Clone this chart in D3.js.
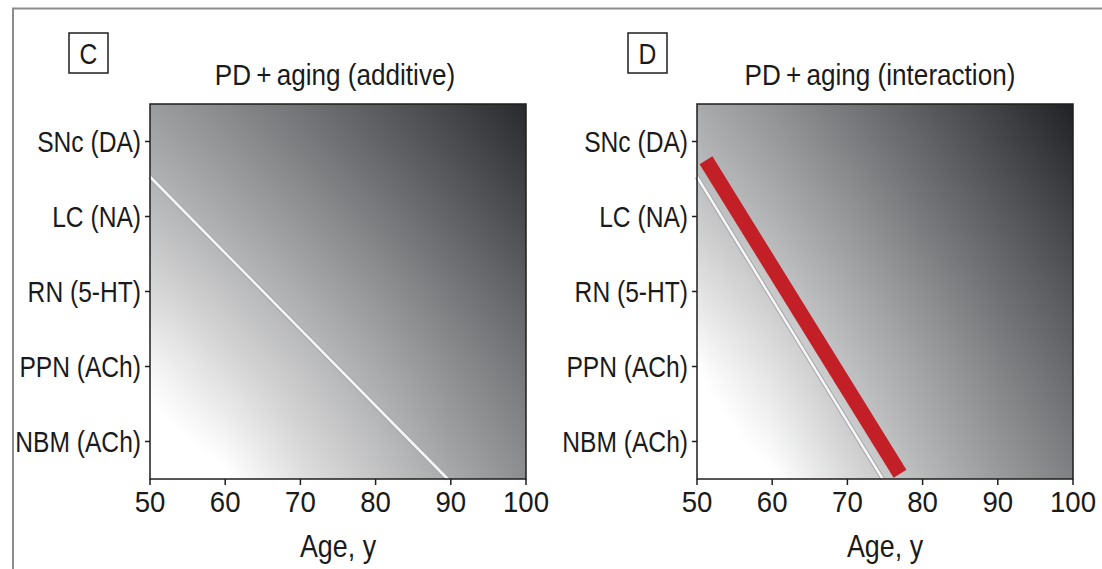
<!DOCTYPE html>
<html lang="en">
<head>
    <meta charset="utf-8">
    <title>PD + aging</title>
    <script src="https://d3js.org/d3.v7.min.js"></script>
    <style type="text/css">
        body{
            margin: 0;
            background: #fff;
        }
        text{
            font-family: "Liberation Sans", Arial, sans-serif;
            fill: #1a1a1a;
        }
    </style>
</head>
<body>
    <svg id="chart" width="1102" height="569"></svg>

    <script type="text/javascript">

        const regions = ["SNc (DA)", "LC (NA)", "RN (5-HT)", "PPN (ACh)", "NBM (ACh)"];
        const ageTicks = [50, 60, 70, 80, 90, 100];

        // shading grid: grey level per (row position, age)
        const gridAges = [50, 60, 70, 80, 90, 100];
        const gridRows = [-0.5, 0, 1, 2, 3, 4, 4.5];   // 0 = SNc ... 4 = NBM

        const shadeAdditive = [
            [155, 134, 112,  88,  64,  38],
            [165, 145, 122,  98,  74,  48],
            [190, 168, 146, 122,  96,  70],
            [216, 194, 170, 146, 119,  93],
            [246, 218, 194, 168, 140, 114],
            [265, 246, 214, 188, 158, 132],
            [272, 258, 224, 196, 168, 140]
        ];
        const shadeInteraction = [
            [168, 144, 116,  88,  60,  30],
            [178, 154, 126,  98,  69,  40],
            [202, 176, 148, 118,  90,  62],
            [228, 200, 170, 140, 110,  82],
            [254, 224, 190, 160, 129, 100],
            [270, 246, 208, 176, 146, 118],
            [278, 258, 218, 184, 154, 126]
        ];

        // [age, row position]
        const thresholdAdditive = [[50, 0.47], [89.6, 4.5]];
        const thresholdInteraction = [[50, 0.47], [74.7, 4.5]];
        const highlightInteraction = [[51.2, 0.25], [77.0, 4.43]];

        const svg = d3.select("#chart");

        // outer frame (top and left only)
        svg.append("path")
            .attr("d", "M13,569 V8.5 H1102")
            .attr("fill", "none")
            .attr("stroke", "#8c8c8c")
            .attr("stroke-width", 2);

        const grey = d3.scaleLinear()
            .domain([30, 255])
            .range(["#202226", "#ffffff"])
            .clamp(true);

        // condensed look: squeeze text horizontally around its anchor
        function narrow(sel, x, y, k) {
            sel.attr("transform", (d, i) => {
                const xx = typeof x === "function" ? x(d, i) : x;
                const yy = typeof y === "function" ? y(d, i) : y;
                return `translate(${xx},${yy}) scale(${k},1)`;
            });
        }

        function shadeAt(grid, age, row) {
            let i = d3.bisectRight(gridAges, age) - 1;
            i = Math.max(0, Math.min(gridAges.length - 2, i));
            let j = d3.bisectRight(gridRows, row) - 1;
            j = Math.max(0, Math.min(gridRows.length - 2, j));
            const tx = (age - gridAges[i]) / (gridAges[i + 1] - gridAges[i]);
            const ty = (row - gridRows[j]) / (gridRows[j + 1] - gridRows[j]);
            const top = grid[j][i] * (1 - tx) + grid[j][i + 1] * tx;
            const bot = grid[j + 1][i] * (1 - tx) + grid[j + 1][i + 1] * tx;
            return top * (1 - ty) + bot * ty;
        }

        function drawPanel(p) {
            const x = d3.scaleLinear().domain([50, 100]).range([p.left, p.right]);
            const yRow = d3.scaleLinear().domain([-0.5, 4.5]).range([p.top, p.bottom]);
            const yBand = d3.scalePoint().domain(regions).range([p.top, p.bottom]).padding(0.5);

            const w = Math.round(p.right - p.left);
            const h = Math.round(p.bottom - p.top);
            const canvas = document.createElement("canvas");
            canvas.width = w;
            canvas.height = h;
            const ctx = canvas.getContext("2d");
            const img = ctx.createImageData(w, h);
            for (let py = 0; py < h; py++) {
                const row = yRow.invert(p.top + py + 0.5);
                for (let px = 0; px < w; px++) {
                    const age = x.invert(p.left + px + 0.5);
                    const c = d3.rgb(grey(shadeAt(p.grid, age, row)));
                    const k = (py * w + px) * 4;
                    img.data[k] = c.r;
                    img.data[k + 1] = c.g;
                    img.data[k + 2] = c.b;
                    img.data[k + 3] = 255;
                }
            }
            ctx.putImageData(img, 0, 0);

            const g = svg.append("g");

            g.append("image")
                .attr("x", p.left)
                .attr("y", p.top)
                .attr("width", w)
                .attr("height", h)
                .attr("preserveAspectRatio", "none")
                .attr("href", canvas.toDataURL());

            const line = d3.line()
                .x(d => x(d[0]))
                .y(d => yRow(d[1]));

            if (p.threshold) {
                g.append("path")
                    .datum(p.threshold)
                    .attr("d", line)
                    .attr("stroke", "#a4a6a9")
                    .attr("stroke-width", 4.5)
                    .attr("fill", "none");
                g.append("path")
                    .datum(p.threshold)
                    .attr("d", line)
                    .attr("stroke", "#f6f6f6")
                    .attr("stroke-width", 2.5)
                    .attr("fill", "none");
            }

            if (p.highlight) {
                g.append("path")
                    .datum(p.highlight)
                    .attr("d", line)
                    .attr("stroke", "#c21f27")
                    .attr("stroke-width", 15)
                    .attr("fill", "none");
            }

            g.append("rect")
                .attr("x", p.left)
                .attr("y", p.top)
                .attr("width", w)
                .attr("height", h)
                .attr("fill", "none")
                .attr("stroke", "#1e1e1e")
                .attr("stroke-width", 1.5);

            // y ticks
            g.selectAll(".ytick")
                .data(regions)
                .enter()
                .append("line")
                .attr("x1", p.left - 5)
                .attr("x2", p.left)
                .attr("y1", d => yBand(d))
                .attr("y2", d => yBand(d))
                .attr("stroke", "#1e1e1e")
                .attr("stroke-width", 1.5);

            g.selectAll(".ylab")
                .data(regions)
                .enter()
                .append("text")
                .attr("dy", "0.36em")
                .attr("text-anchor", "end")
                .style("font-size", "30px")
                .call(narrow, p.left - 9, d => yBand(d), 0.82)
                .text(d => d);

            // x ticks
            g.selectAll(".xtick")
                .data(ageTicks)
                .enter()
                .append("line")
                .attr("x1", d => x(d))
                .attr("x2", d => x(d))
                .attr("y1", p.bottom)
                .attr("y2", p.bottom + 6)
                .attr("stroke", "#1e1e1e")
                .attr("stroke-width", 1.5);

            g.selectAll(".xlab")
                .data(ageTicks)
                .enter()
                .append("text")
                .attr("text-anchor", "middle")
                .style("font-size", "30px")
                .call(narrow, d => x(d), p.bottom + 33, 0.92)
                .text(d => d);

            g.append("text")
                .attr("text-anchor", "middle")
                .style("font-size", "32px")
                .call(narrow, (p.left + p.right) / 2, 557, 0.84)
                .text("Age, y");

            g.append("text")
                .attr("text-anchor", "middle")
                .style("font-size", "29px")
                .call(narrow, p.titleX, 85, 0.9)
                .text(p.title);

            g.append("rect")
                .attr("x", p.boxX)
                .attr("y", 33)
                .attr("width", 39)
                .attr("height", 40)
                .attr("fill", "#fff")
                .attr("stroke", "#1e1e1e")
                .attr("stroke-width", 1.5);

            g.append("text")
                .attr("text-anchor", "middle")
                .style("font-size", "29px")
                .call(narrow, p.boxX + 19.5, 64, 0.85)
                .text(p.letter);
        }

        drawPanel({
            left: 150, right: 526, top: 104, bottom: 479,
            grid: shadeAdditive,
            threshold: thresholdAdditive,
            title: "PD\u2009+\u2009aging (additive)",
            titleX: 335,
            letter: "C",
            boxX: 69
        });

        drawPanel({
            left: 697, right: 1073, top: 104, bottom: 479,
            grid: shadeInteraction,
            threshold: thresholdInteraction,
            highlight: highlightInteraction,
            title: "PD\u2009+\u2009aging (interaction)",
            titleX: 880,
            letter: "D",
            boxX: 628
        });
    </script>
</body>
</html>
